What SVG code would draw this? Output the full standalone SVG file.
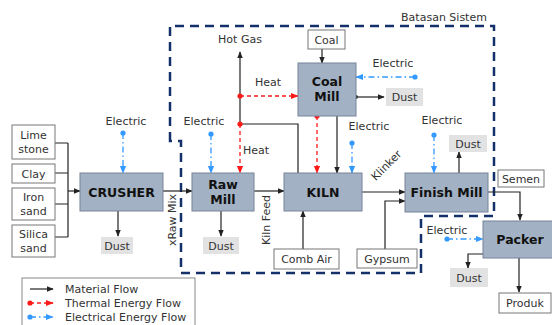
<svg xmlns="http://www.w3.org/2000/svg" width="552" height="325" viewBox="0 0 552 325">
<defs>
<style>
text{font-family:"DejaVu Sans","Verdana",sans-serif;font-size:11px;fill:#333;}
.b{font-weight:bold;font-size:12.5px;fill:#111;}
.proc{fill:#a2b1c3;stroke:#76849a;stroke-width:1;}
.inp{fill:#fff;stroke:#777;stroke-width:1;}
.dust{fill:#e2e2e2;stroke:none;}
.m{fill:none;stroke:#222;stroke-width:1.2;}
.t{fill:none;stroke:#ff1a1a;stroke-width:1.3;stroke-dasharray:4 3;}
.e{fill:none;stroke:#3399ff;stroke-width:1.3;stroke-dasharray:6 3 1.5 3;}
.bd{fill:none;stroke:#14306a;stroke-width:2.5;stroke-dasharray:9 6;}
</style>
<marker id="am" viewBox="0 0 10 10" refX="9" refY="5" markerWidth="6" markerHeight="6" orient="auto"><path d="M0,1 L10,5 L0,9 z" fill="#222"/></marker>
<marker id="at" viewBox="0 0 10 10" refX="9" refY="5" markerWidth="6" markerHeight="6" orient="auto"><path d="M0,1 L10,5 L0,9 z" fill="#ff1a1a"/></marker>
<marker id="ae" viewBox="0 0 10 10" refX="9" refY="5" markerWidth="6" markerHeight="6" orient="auto"><path d="M0,1 L10,5 L0,9 z" fill="#3399ff"/></marker>
<marker id="dm" viewBox="0 0 10 10" refX="5" refY="5" markerWidth="4" markerHeight="4"><circle cx="5" cy="5" r="4" fill="#222"/></marker>
<marker id="dt" viewBox="0 0 10 10" refX="5" refY="5" markerWidth="5" markerHeight="5"><circle cx="5" cy="5" r="4" fill="#ff1a1a"/></marker>
<marker id="de" viewBox="0 0 10 10" refX="5" refY="5" markerWidth="5" markerHeight="5"><circle cx="5" cy="5" r="4" fill="#3399ff"/></marker>
</defs>
<rect width="552" height="325" fill="#fff"/>

<g id="boundary">
<path class="bd" d="M170,141 L170,26 L494,26 L494,216 L421,216 L421,273 L181,273 L181,141 Z"/>
<text x="444" y="21" text-anchor="middle">Batasan Sistem</text>
</g>

<g id="connectors">
<path class="m" d="M55,143 H68 M55,173 H68 M55,204 H68 M55,237 H68 M68,143 V237"/>
<path class="m" d="M68,191 H80" marker-end="url(#am)"/>
<path class="e" d="M123,133 V173" marker-start="url(#de)" marker-end="url(#ae)"/>
<path class="m" d="M118,211 V236" marker-end="url(#am)"/>
<path class="m" d="M163,191 H192" marker-end="url(#am)"/>
<path class="e" d="M211,134 V173" marker-start="url(#de)" marker-end="url(#ae)"/>
<path class="m" d="M221,211 V236" marker-end="url(#am)"/>
<path class="m" d="M254,191 H284" marker-end="url(#am)"/>
<path class="m" d="M298,173 V124 H240 V52" marker-end="url(#am)"/>
<path class="t" d="M240,124 V173" marker-start="url(#dt)" marker-end="url(#at)"/>
<path class="t" d="M240,96 H298" marker-start="url(#dt)" marker-end="url(#at)"/>
<path class="m" d="M322,49 V63" marker-end="url(#am)"/>
<path class="e" d="M415,77 H356" marker-start="url(#de)" marker-end="url(#ae)"/>
<path class="m" d="M356,97 H384" marker-start="url(#dm)" marker-end="url(#am)"/>
<path class="t" d="M317,116 V173" marker-start="url(#dt)" marker-end="url(#at)"/>
<path class="m" d="M337,116 V173" marker-end="url(#am)"/>
<path class="e" d="M352,143 V173" marker-start="url(#de)" marker-end="url(#ae)"/>
<path class="m" d="M303,249 V211" marker-end="url(#am)"/>
<path class="m" d="M362,192 H405" marker-end="url(#am)"/>
<path class="m" d="M385,249 V201 H405" marker-end="url(#am)"/>
<path class="e" d="M434,135 V173" marker-start="url(#de)" marker-end="url(#ae)"/>
<path class="m" d="M459,173 V152" marker-end="url(#am)"/>
<path class="m" d="M488,192 H520 V220" marker-end="url(#am)"/>
<path class="e" d="M447,239 H483" marker-start="url(#de)" marker-end="url(#ae)"/>
<path class="m" d="M483,254 H468 V268" marker-end="url(#am)"/>
<path class="m" d="M519,258 V292" marker-end="url(#am)"/>
</g>

<g id="labels">
<text x="126" y="125" text-anchor="middle">Electric</text>
<text x="204" y="125" text-anchor="middle">Electric</text>
<text x="256" y="154" text-anchor="middle">Heat</text>
<text x="268" y="86" text-anchor="middle">Heat</text>
<text x="240" y="43" text-anchor="middle">Hot Gas</text>
<text x="393" y="67" text-anchor="middle">Electric</text>
<text x="369" y="130" text-anchor="middle">Electric</text>
<text x="442" y="124" text-anchor="middle">Electric</text>
<text x="447" y="234" text-anchor="middle">Electric</text>
<text transform="translate(176,220) rotate(-90)" text-anchor="middle">xRaw Mix</text>
<text transform="translate(270,220) rotate(-90)" text-anchor="middle">Kiln Feed</text>
<text transform="translate(389,168) rotate(-45)" text-anchor="middle">Klinker</text>
</g>

<g id="limestone"><rect class="inp" x="12" y="125" width="43" height="34"/><text x="33.5" y="139" text-anchor="middle">Lime</text><text x="33.5" y="153" text-anchor="middle">stone</text></g>
<g id="clay"><rect class="inp" x="12" y="164" width="43" height="19"/><text x="33.5" y="177.5" text-anchor="middle">Clay</text></g>
<g id="ironsand"><rect class="inp" x="12" y="188" width="43" height="32"/><text x="33.5" y="201" text-anchor="middle">Iron</text><text x="33.5" y="215" text-anchor="middle">sand</text></g>
<g id="silicasand"><rect class="inp" x="12" y="225" width="43" height="32"/><text x="33.5" y="238" text-anchor="middle">Silica</text><text x="33.5" y="252" text-anchor="middle">sand</text></g>

<g id="crusher"><rect class="proc" x="80" y="173" width="83" height="38"/><text class="b" x="121.5" y="196.5" text-anchor="middle">CRUSHER</text></g>
<g id="dust1"><rect class="dust" x="101" y="237" width="32" height="17"/><text x="117" y="250" text-anchor="middle">Dust</text></g>

<g id="rawmill"><rect class="proc" x="192" y="173" width="62" height="38"/><text class="b" x="223" y="189" text-anchor="middle">Raw</text><text class="b" x="223" y="204" text-anchor="middle">Mill</text></g>
<g id="dust2"><rect class="dust" x="203" y="237" width="36" height="17"/><text x="221" y="250" text-anchor="middle">Dust</text></g>

<g id="coal"><rect class="inp" x="308" y="30" width="37" height="19"/><text x="326.5" y="43.5" text-anchor="middle">Coal</text></g>
<g id="coalmill"><rect class="proc" x="298" y="63" width="58" height="53"/><text class="b" x="327" y="86" text-anchor="middle">Coal</text><text class="b" x="327" y="101" text-anchor="middle">Mill</text></g>
<g id="dust3"><rect class="dust" x="386" y="88" width="37" height="18"/><text x="404.5" y="101" text-anchor="middle">Dust</text></g>

<g id="kiln"><rect class="proc" x="284" y="173" width="78" height="38"/><text class="b" x="323" y="196.5" text-anchor="middle">KILN</text></g>
<g id="combair"><rect class="inp" x="274" y="249" width="65" height="20"/><text x="306.5" y="263" text-anchor="middle">Comb Air</text></g>

<g id="gypsum"><rect class="inp" x="357" y="249" width="60" height="19"/><text x="387" y="262.5" text-anchor="middle">Gypsum</text></g>
<g id="finishmill"><rect class="proc" x="405" y="173" width="83" height="39"/><text class="b" x="446.5" y="197" text-anchor="middle">Finish Mill</text></g>
<g id="dust4"><rect class="dust" x="449" y="135" width="38" height="17"/><text x="468" y="148" text-anchor="middle">Dust</text></g>

<g id="semen"><rect class="inp" x="498" y="170" width="46" height="17"/><text x="521" y="182.5" text-anchor="middle">Semen</text></g>
<g id="packer"><rect class="proc" x="483" y="221" width="72" height="37"/><text class="b" x="520" y="244" text-anchor="middle">Packer</text></g>
<g id="dust5"><rect class="dust" x="450" y="268" width="38" height="19"/><text x="469" y="282" text-anchor="middle">Dust</text></g>
<g id="produk"><rect class="inp" x="499" y="293" width="52" height="20"/><text x="525" y="307" text-anchor="middle">Produk</text></g>

<g id="legend">
<rect x="22" y="278" width="173" height="52" fill="#fff" stroke="#888" stroke-width="1"/>
<path class="m" d="M30,289 H53" marker-end="url(#am)"/>
<path class="t" d="M30,303 H53" marker-start="url(#dt)" marker-end="url(#at)"/>
<path class="e" d="M30,317 H53" marker-start="url(#de)" marker-end="url(#ae)"/>
<text x="65" y="293">Material Flow</text>
<text x="65" y="307">Thermal Energy Flow</text>
<text x="65" y="321">Electrical Energy Flow</text>
</g>
</svg>
